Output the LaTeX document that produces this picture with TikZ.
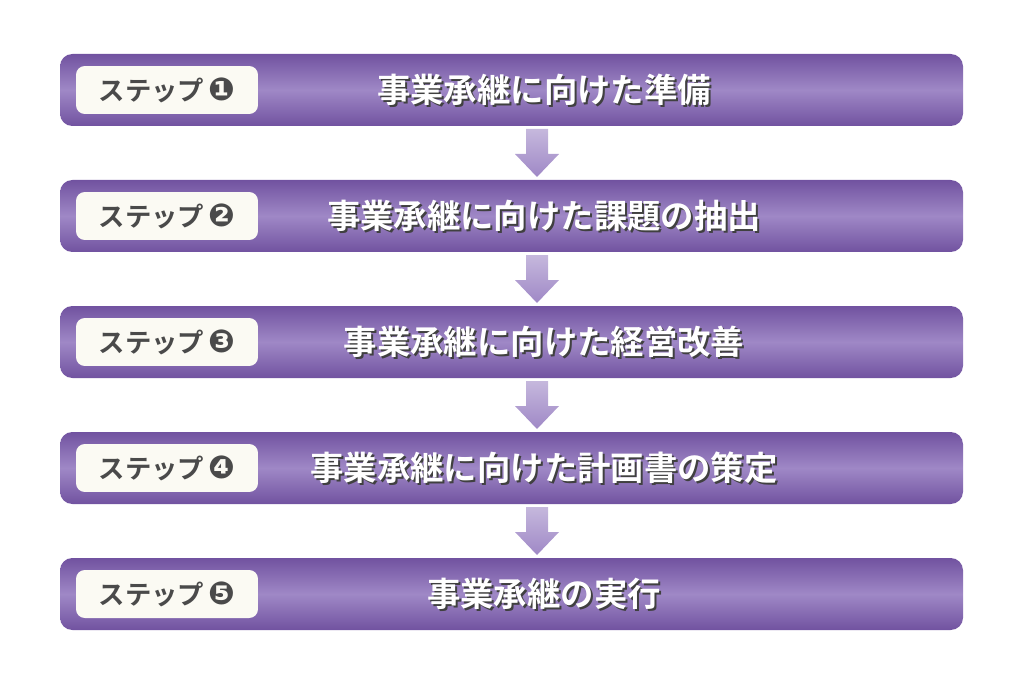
\documentclass[tikz,border=0pt]{standalone}
\usepackage{fontspec}
\setmainfont{Noto Sans CJK JP}[BoldFont={* Bold}]
\newfontfamily\dv{DejaVu Sans}
\usetikzlibrary{calc}
\definecolor{pdark}{HTML}{7152A0}
\definecolor{plight}{HTML}{9F88C6}
\definecolor{lab}{HTML}{FBFAF3}
\definecolor{txtg}{HTML}{4A4A4A}
\tikzset{
 bar/.style={rounded corners=7pt, top color=pdark, bottom color=pdark, middle color=plight, shading angle=0},
 labelbox/.style={rounded corners=5pt, fill=lab, draw=none},
 title/.style={font=\bfseries\fontsize{19}{19}\selectfont, text=white},
 shadowtitle/.style={font=\bfseries\fontsize{19}{19}\selectfont, text=black!75},
 steptxt/.style={font=\bfseries\fontsize{15}{15}\selectfont, text=txtg},
 darr/.style={top color=plight!60, bottom color=plight, draw=none}
}
\begin{document}
\begin{tikzpicture}[x=0.02cm,y=-0.02cm]
\useasboundingbox (0,0) rectangle (1024,682);
\foreach \i/\t in {1/事業承継に向けた準備, 2/事業承継に向けた課題の抽出, 3/事業承継に向けた経営改善, 4/事業承継に向けた計画書の策定, 5/事業承継の実行}{
  \pgfmathsetmacro\yt{54+126*(\i-1)}
  \path[bar] (60,\yt) rectangle (963,\yt+72);
  \node[labelbox, minimum width=3.64cm, minimum height=0.96cm] (l\i) at (167,\yt+36) {};
  \node[steptxt] (s\i) at (l\i) {ステップ\,{\dv\fontsize{18}{18}\selectfont\char\numexpr"2775+\i\relax}};
  \node[shadowtitle] at (546,\yt+38) {\t};
  \node[title] (t\i) at (544,\yt+36) {\t};
  \coordinate (b\i) at (537,\yt+72);
}
\foreach \i in {1,...,4}{
  \path[darr] ($(b\i)+(-11,3)$) -- ++(22,0) -- ++(0,25) -- ++(11,0) -- ++(-22,23) -- ++(-22,-23) -- ++(11,0) -- cycle;
}
\end{tikzpicture}
\end{document}
